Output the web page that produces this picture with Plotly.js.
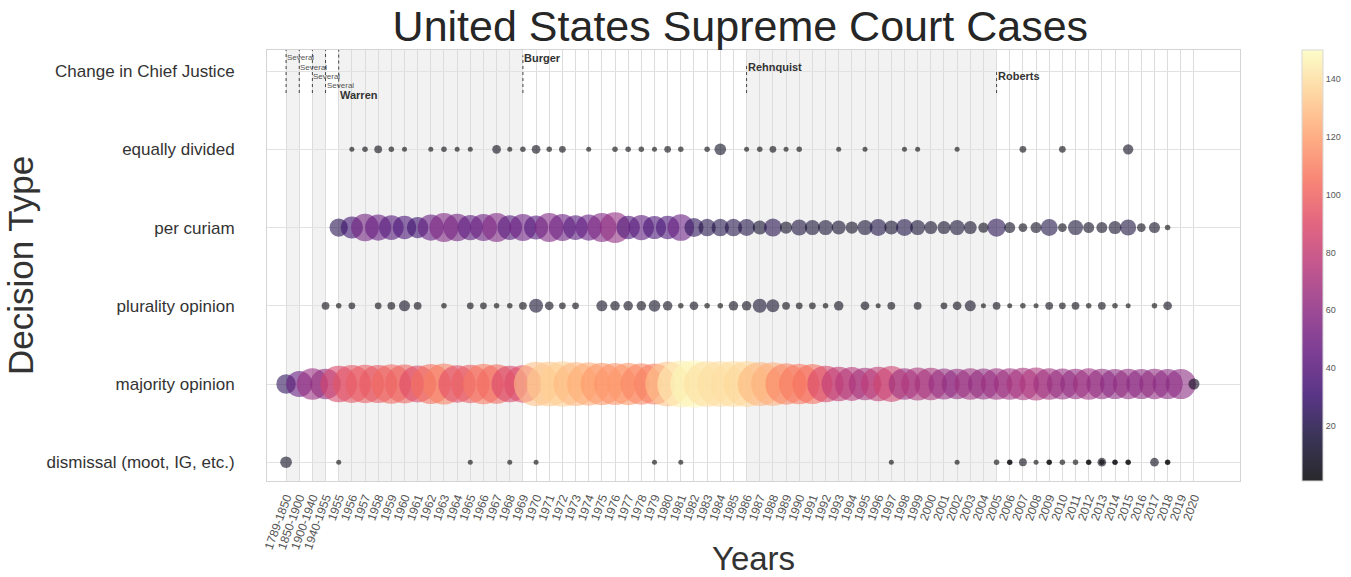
<!DOCTYPE html>
<html>
<head>
<meta charset="utf-8">
<script src="https://cdn.plot.ly/plotly-3.0.1.min.js"></script>
<style>
  html, body { margin: 0; padding: 0; background: #fff; }
  #chart { width: 1351px; height: 577px; }
</style>
</head>
<body>
<div id="chart"></div>
<script>
// ---- categories ----
const yearLabels = ['1789-1850','1850-1900','1900-1940','1940-1955',
  '1955','1956','1957','1958','1959','1960','1961','1962','1963','1964','1965','1966','1967','1968','1969',
  '1970','1971','1972','1973','1974','1975','1976','1977','1978','1979','1980','1981','1982','1983','1984',
  '1985','1986','1987','1988','1989','1990','1991','1992','1993','1994','1995','1996','1997','1998','1999',
  '2000','2001','2002','2003','2004','2005','2006','2007','2008','2009','2010','2011','2012','2013','2014',
  '2015','2016','2017','2018','2019','2020'];
const decisionTypes = ['dismissal (moot, IG, etc.)','majority opinion','plurality opinion',
  'per curiam','equally divided','Change in Chief Justice'];

// ---- series values (case counts, one per year label; null = none) ----
const majorityCounts = [25,45,65,62,
  88,95,98,96,102,100,90,105,110,92,98,108,103,88,92,
  130,133,135,128,124,118,116,118,112,110,132,145,148,140,140,140,138,
  128,125,112,108,105,88,78,75,70,78,85,
  66,72,70,64,62,66,63,
  65,66,70,72,66,64,62,66,62,60,62,60,62,60,60,
  8];
const perCuriamCounts = [null,null,null,null,
  22,32,50,45,40,36,30,45,55,50,42,48,55,40,48,38,55,48,40,45,55,62,36,42,35,36,46,
  24,20,20,20,
  19,13,21,10,17,15,15,13,10,15,19,13,19,15,11,11,15,11,7,22,8,5,8,19,5,15,8,8,11,17,5,8,2,
  null,null];

const pluralityYears = ['1940-1955','1955','1956','1958','1959','1960','1961','1963','1965','1966','1967',
  '1968','1969','1970','1971','1972','1973','1975','1976','1977','1978','1979','1980','1981','1982','1983',
  '1984','1985','1986','1987','1988','1989','1990','1991','1992','1993','1995','1996','1997','1999','2001',
  '2002','2003','2004','2005','2006','2007','2008','2009','2010','2011','2012','2013','2014','2015','2017','2018'];
const pluralityCounts = [4,2,3,3,4,8,4,2,3,3,2,
  2,4,13,5,3,3,8,6,6,6,9,6,2,5,2,
  2,6,6,13,11,4,3,3,2,6,5,1,4,4,3,
  5,8,1,4,1,2,1,4,3,4,2,4,2,1,2,5];

const equallyDividedYears = ['1956','1957','1958','1959','1960','1962','1963','1964','1965','1967','1968',
  '1969','1970','1971','1972','1974','1976','1977','1978','1979','1980','1981','1983','1984','1986','1987',
  '1988','1989','1990','1993','1995','1998','1999','2002','2007','2010','2015'];
const equallyDividedCounts = [1,2,4,2,1,1,2,1,1,5,1,
  2,5,2,3,1,2,2,2,1,3,2,2,9,1,2,
  3,1,2,1,1,1,1,1,3,3,7];

const dismissalYears = ['1789-1850','1955','1965','1968','1970','1979','1981','1997','2002','2005','2006',
  '2007','2008','2009','2010','2011','2012','2013','2014','2015','2017','2018'];
const dismissalCounts = [9,1,1,1,1,1,1,1,1,2,2,4,1,2,2,2,2,5,2,2,5,2];
// second dismissal sub-type entries in the same years (drawn on top of the first)
const dismissalOtherYears = ['2006','2009','2012','2013','2014','2015','2018'];
const dismissalOtherCounts = [1,1,1,2,1,1,1];

// chief justice changes
const chiefYears = ['1789-1850','1850-1900','1900-1940','1940-1955','1955','1969','1986','2005'];
const chiefNames = ['Several','Several','Several','Several','Warren','Burger','Rehnquist','Roberts'];

// ---- styling ----
const A = 0.84;
function rgba(hex){ const n=parseInt(hex.slice(1),16); return `rgba(${n>>16},${(n>>8)&255},${n&255},${A})`; }
const magmaHex = ['#000004','#140e36','#3b0f70','#641a80','#8c2981','#b73779','#de4968','#f7705c','#fe9f6d','#fecf92','#fcfdbf'];
const magma = magmaHex.map((h,i)=>[i/10, rgba(h)]);

function sizes(c){ return c.map(v => v==null ? 0 : Math.max(5, 3.9*Math.sqrt(v))); }
const idx = lbl => yearLabels.indexOf(lbl);

function bubble(xs, row, counts, showScale){
  return {
    type:'scatter', mode:'markers', x: xs, y: xs.map(()=>row),
    hoverinfo:'skip',
    marker:{
      size: sizes(counts), sizemode:'diameter',
      color: counts.map(v=>v==null?0:v), colorscale: magma, cmin:1, cmax:150,
      line:{width:0},
      showscale: !!showScale,
      colorbar: showScale ? {
        x:1.0637, xanchor:'left', xpad:0, y:0.5, yanchor:'middle', len:1, lenmode:'fraction',
        ypad:0, thickness:21, outlinecolor:'#d8d8d8', outlinewidth:1,
        tick0:0, dtick:20, ticks:'', tickfont:{size:9, color:'#555', family:'Liberation Sans, Arial'},
        ticklabelposition:'outside'
      } : undefined
    }
  };
}

function filt(xs, c){ const X=[],C=[]; xs.forEach((x,i)=>{ if(c[i]!=null){X.push(x);C.push(c[i]);} }); return [X,C]; }

const [mX,mC] = filt(yearLabels, majorityCounts);
const [pX,pC] = filt(yearLabels, perCuriamCounts);

const traces = [
  bubble(dismissalYears, decisionTypes[0], dismissalCounts),
  bubble(dismissalOtherYears, decisionTypes[0], dismissalOtherCounts),
  bubble(mX, decisionTypes[1], mC, true),
  bubble(pluralityYears, decisionTypes[2], pluralityCounts),
  bubble(pX, decisionTypes[3], pC),
  bubble(equallyDividedYears, decisionTypes[4], equallyDividedCounts)
];

// shading of alternating chief justice eras
const shapes = [];
const shadePairs = [[0,1],[2,3],[4,5],[6,7]];
shadePairs.forEach(([a,b])=>{
  shapes.push({type:'rect', layer:'below', xref:'x', yref:'paper',
    x0: idx(chiefYears[a]), x1: idx(chiefYears[b]), y0:0, y1:1,
    fillcolor:'#f2f2f2', line:{width:0}});
});
const labelLevels = [5.17,5.05,4.93,4.81,4.69,5.17,5.05,4.94];
const lineTops    = [5.3,5.3,5.3,5.3,5.3,5.2,5.1,4.99];
const lineBottoms = [4.72,4.72,4.72,4.72,4.79,4.72,4.72,4.72];
chiefYears.forEach((yr,i)=>{
  shapes.push({type:'line', xref:'x', yref:'y', x0:idx(yr), x1:idx(yr), y0:lineBottoms[i], y1:lineTops[i],
    line:{color:'#444', width:1, dash:'dot'}});
});
const annotations = chiefYears.map((yr,i)=>({
  x: idx(yr), y: labelLevels[i], xref:'x', yref:'y', xanchor:'left', yanchor:'middle', showarrow:false,
  text: chiefNames[i]==='Several' ? chiefNames[i] : '<b>'+chiefNames[i]+'</b>',
  font: chiefNames[i]==='Several' ? {size:8, color:'#555'} : {size:11, color:'#333'},
  borderpad:0
}));

const layout = {
  width:1351, height:577,
  margin:{l:267, r:111, t:50, b:96},
  paper_bgcolor:'#fff', plot_bgcolor:'#fff',
  font:{family:'Liberation Sans, Arial, sans-serif', color:'#333'},
  showlegend:false, hovermode:false,
  title:{text:'United States Supreme Court Cases', font:{size:43, color:'#262626'},
    x:0.548, xref:'container', xanchor:'center', y:0.955, yref:'container', yanchor:'middle'},
  xaxis:{type:'category', categoryorder:'array', categoryarray: yearLabels,
    range:[-1.45, 72.5], tickmode:'linear', tick0:0, dtick:1,
    tickangle:-70, tickfont:{size:12, color:'#555'},
    ticks:'outside', ticklen:4, tickcolor:'rgba(0,0,0,0)',
    showgrid:true, gridcolor:'#dcdcdc', gridwidth:1, zeroline:false,
    showline:true, mirror:true, linecolor:'#d4d4d4', linewidth:1,
    title:{text:'Years', font:{size:33, color:'#333'}, standoff:0}},
  yaxis:{type:'category', categoryorder:'array', categoryarray: decisionTypes,
    range:[-0.24, 5.27], tickfont:{size:17, color:'#333'},
    ticks:'outside', ticklen:28, tickcolor:'rgba(0,0,0,0)',
    showgrid:true, gridcolor:'#e2e2e2', gridwidth:1, zeroline:false,
    showline:true, mirror:true, linecolor:'#d4d4d4', linewidth:1,
    title:{text:'Decision Type', font:{size:35, color:'#333'}, standoff:2}},
  shapes: shapes,
  annotations: annotations
};

Plotly.newPlot('chart', traces, layout, {staticPlot:true, displayModeBar:false});
</script>
</body>
</html>
